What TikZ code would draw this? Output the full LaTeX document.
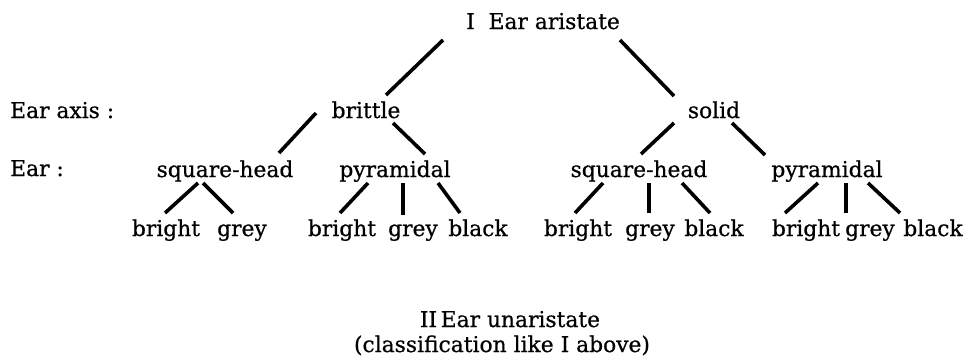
\documentclass[tikz,border=0pt]{standalone}
\usepackage{fontspec}
\setmainfont{DejaVu Serif}[FakeBold=0.6]
\usetikzlibrary{calc}
\begin{document}
\begin{tikzpicture}[x=1pt,y=-1pt,
  lbl/.style={anchor=base,inner sep=0pt,font=\fontsize{21.8}{26}\selectfont},
  side/.style={lbl,anchor=base west},
  edge/.style={line width=3.6pt}]
\useasboundingbox (0,0) rectangle (965,360);
% nodes
\node[lbl] (root) at (543,29) {I\ \ Ear aristate};
\node[side] (axis) at (10,118) {Ear axis :};
\node[side] (ear) at (10,176) {Ear :};
\node[lbl] (brittle) at (366,118) {brittle};
\node[lbl] (solid) at (714,118) {solid};
\node[lbl] (sqL) at (225,177) {square-head};
\node[lbl] (pyL) at (395,177) {pyramidal};
\node[lbl] (sqR) at (639,177) {square-head};
\node[lbl] (pyR) at (827,177) {pyramidal};
\node[lbl] (b1) at (166,236) {bright};
\node[lbl] (g1) at (242,236) {grey};
\node[lbl] (b2) at (342,236) {bright};
\node[lbl] (g2) at (413,236) {grey};
\node[lbl] (k2) at (478,236) {black};
\node[lbl] (b3) at (578,236) {bright};
\node[lbl] (g3) at (650,236) {grey};
\node[lbl] (k3) at (714,236) {black};
\node[lbl] (b4) at (806,236) {bright};
\node[lbl] (g4) at (870,236) {grey};
\node[lbl] (k4) at (933,236) {black};
\node[lbl] (un) at (510,327) {II\,Ear unaristate};
\node[lbl] (cl) at (502,352) {(classification like I above)};
% connectors
\draw[edge] ($(root.base)+(-100,11)$) -- ($(brittle.base)+(20,-23)$);
\draw[edge] ($(root.base)+(77,11)$) -- ($(solid.base)+(-40,-22)$);
\draw[edge] ($(brittle.base)+(-50,-5)$) -- ($(sqL.base)+(54,-24)$);
\draw[edge] ($(brittle.base)+(27,5)$) -- ($(pyL.base)+(30,-23)$);
\draw[edge] ($(solid.base)+(-40,5)$) -- ($(sqR.base)+(2,-23)$);
\draw[edge] ($(solid.base)+(18,5)$) -- ($(pyR.base)+(-62,-22)$);
\draw[edge] ($(sqL.base)+(-27,6)$) -- ($(b1.base)+(-1,-23)$);
\draw[edge] ($(sqL.base)+(-22,6)$) -- ($(g1.base)+(-9,-23)$);
\draw[edge] ($(pyL.base)+(-27,6)$) -- ($(b2.base)+(-2,-23)$);
\draw[edge] ($(pyL.base)+(8,6)$) -- ($(g2.base)+(-10,-21)$);
\draw[edge] ($(pyL.base)+(43,6)$) -- ($(k2.base)+(-18,-23)$);
\draw[edge] ($(sqR.base)+(-36,6)$) -- ($(b3.base)+(-3,-23)$);
\draw[edge] ($(sqR.base)+(10,6)$) -- ($(g3.base)+(-1,-23)$);
\draw[edge] ($(sqR.base)+(43,6)$) -- ($(k3.base)+(-4,-23)$);
\draw[edge] ($(pyR.base)+(-9,6)$) -- ($(b4.base)+(-21,-23)$);
\draw[edge] ($(pyR.base)+(19,6)$) -- ($(g4.base)+(-24,-23)$);
\draw[edge] ($(pyR.base)+(41,6)$) -- ($(k4.base)+(-33,-23)$);
\end{tikzpicture}
\end{document}
